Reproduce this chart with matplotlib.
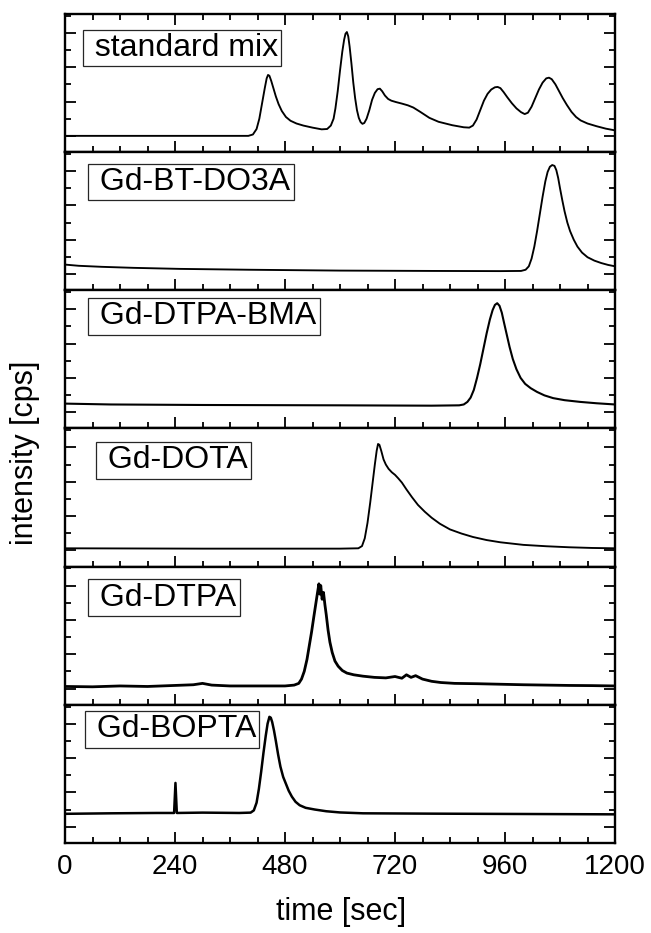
import numpy as np
import matplotlib.pyplot as plt
from matplotlib.ticker import MultipleLocator

plt.rcParams['font.family'] = ['Liberation Sans', 'DejaVu Sans']

# --------------------
# Data
# intensity in tick units (one unit = one y tick, baseline tick = 0)
# --------------------
panel_labels = [" standard mix", " Gd-BT-DO3A", " Gd-DTPA-BMA",
                " Gd-DOTA", " Gd-DTPA", " Gd-BOPTA"]

mix_t = [0, 400, 410, 418, 424, 430, 436, 440, 443, 446, 450, 455, 460, 466,
         473, 482, 492, 505, 520, 540, 560, 572, 580, 586, 590, 595, 600, 605,
         609, 612, 615, 618, 621, 625, 629, 633, 637, 641, 645, 649, 653, 658,
         664, 670, 676, 682, 687, 692, 698, 705, 712, 722, 735, 748, 760, 775,
         795, 815, 845, 870, 882, 890, 898, 906, 914, 922, 930, 938, 944, 950,
         957, 965, 975, 985, 995, 1003, 1010, 1018, 1026, 1034, 1042, 1050, 1056,
         1062, 1070, 1078, 1086, 1095, 1105, 1115, 1125, 1140, 1160, 1180, 1200]
mix_y = [0.0, 0.0, 0.08, 0.4, 1.0, 1.9, 2.8, 3.35, 3.55, 3.5, 3.2, 2.75, 2.3, 1.85,
         1.45, 1.1, 0.88, 0.72, 0.6, 0.48, 0.38, 0.4, 0.6, 1.0, 1.6, 2.6, 3.8, 4.9,
         5.6, 5.95, 6.05, 5.8, 5.2, 4.2, 3.1, 2.2, 1.5, 1.05, 0.8, 0.7, 0.75, 1.0,
         1.5, 2.1, 2.5, 2.72, 2.75, 2.6, 2.35, 2.15, 2.05, 1.97, 1.88, 1.78, 1.65, 1.4,
         1.05, 0.82, 0.62, 0.5, 0.48, 0.6, 0.95, 1.5, 2.05, 2.45, 2.7, 2.83, 2.85, 2.78,
         2.55, 2.25, 1.9, 1.6, 1.38, 1.27, 1.35, 1.7, 2.2, 2.7, 3.1, 3.35, 3.39,
         3.3, 3.0, 2.6, 2.2, 1.8, 1.4, 1.1, 0.9, 0.72, 0.56, 0.42, 0.32]

bt_t = [0, 30, 80, 150, 250, 400, 600, 800, 950, 995, 1005, 1012, 1018, 1024,
        1030, 1036, 1042, 1048, 1053, 1058, 1063, 1068, 1072, 1076, 1080, 1085,
        1090, 1096, 1102, 1110, 1118, 1128, 1140, 1155, 1170, 1185, 1200]
bt_y = [0.55, 0.48, 0.42, 0.36, 0.3, 0.25, 0.2, 0.18, 0.17, 0.18, 0.25, 0.45, 0.9,
        1.6, 2.5, 3.5, 4.5, 5.4, 5.95, 6.25, 6.35, 6.3, 6.05, 5.6, 5.0, 4.3,
        3.65, 3.0, 2.5, 2.0, 1.6, 1.25, 0.98, 0.78, 0.64, 0.53, 0.45]

bma_t = [0, 100, 300, 600, 800, 860, 870, 878, 885, 892, 899, 906, 913, 920,
         927, 933, 938, 943, 948, 953, 958, 964, 970, 977, 985, 994, 1004, 1016,
         1030, 1046, 1065, 1090, 1124, 1160, 1200]
bma_y = [0.5, 0.45, 0.42, 0.4, 0.38, 0.4, 0.45, 0.6, 0.85, 1.3, 2.0, 2.8, 3.7, 4.6,
         5.4, 5.95, 6.25, 6.35, 6.2, 5.8, 5.2, 4.5, 3.8, 3.1, 2.5, 2.0, 1.65, 1.4,
         1.18, 0.98, 0.82, 0.7, 0.6, 0.52, 0.45]

dota_t = [0, 300, 600, 640, 648, 654, 660, 666, 671, 676, 680, 683, 686, 690,
          695, 700, 706, 713, 720, 727, 735, 745, 757, 770, 785, 800, 818, 840,
          865, 890, 920, 950, 1000, 1050, 1100, 1150, 1200]
dota_y = [0.12, 0.1, 0.1, 0.12, 0.25, 0.7, 1.6, 2.8, 3.9, 5.0, 5.8, 6.2, 6.15, 5.8,
          5.3, 5.0, 4.75, 4.55, 4.4, 4.2, 3.95, 3.55, 3.1, 2.65, 2.25, 1.9, 1.55,
          1.22, 0.98, 0.78, 0.6, 0.47, 0.32, 0.24, 0.18, 0.14, 0.12]

dtpa_t = [0, 60, 120, 180, 240, 280, 300, 320, 360, 420, 480, 500, 510, 516,
          522, 528, 533, 538, 543, 547, 551, 554, 556, 558, 561, 564, 567, 570,
          574, 578, 583, 589, 596, 605, 615, 630, 650, 675, 700, 720, 735, 745,
          755, 765, 780, 800, 820, 850, 900, 950, 1000, 1050, 1100, 1150, 1200]
dtpa_y = [0.12, 0.1, 0.15, 0.12, 0.18, 0.22, 0.3, 0.2, 0.15, 0.15, 0.15, 0.2, 0.3,
          0.55, 1.0, 1.7, 2.5, 3.3, 4.2, 4.9, 5.6, 6.1, 5.5, 6.0, 5.2, 5.6, 4.9,
          4.3, 3.4, 2.7, 2.1, 1.6, 1.3, 1.05, 0.9, 0.8, 0.72, 0.65, 0.62, 0.7, 0.6,
          0.8, 0.65, 0.75, 0.55, 0.42, 0.35, 0.3, 0.28, 0.25, 0.22, 0.2, 0.18,
          0.17, 0.15]

bopta_t = [0, 100, 200, 238, 241, 244, 300, 380, 405, 412, 418, 423, 428, 433,
           438, 442, 446, 449, 452, 456, 460, 465, 470, 476, 482, 488, 495, 503,
           512, 525, 545, 570, 600, 650, 800, 1000, 1200]
bopta_y = [0.75, 0.78, 0.8, 0.8, 2.55, 0.8, 0.82, 0.8, 0.82, 0.95, 1.4, 2.2, 3.2,
           4.3, 5.3, 6.0, 6.4, 6.35, 6.1, 5.6, 5.0, 4.2, 3.5, 2.9, 2.5, 2.1, 1.75,
           1.45, 1.25, 1.1, 1.0, 0.9, 0.83, 0.78, 0.76, 0.74, 0.72]

traces = [(mix_t, mix_y), (bt_t, bt_y), (bma_t, bma_y),
          (dota_t, dota_y), (dtpa_t, dtpa_y), (bopta_t, bopta_y)]
line_w = [1.35, 1.35, 1.5, 1.35, 2.0, 1.8]

# label box: left edge and vertical centre, pixels from the axes' top-left
box_left_px = [17.5, 23, 23, 31, 23, 19.6]
box_mid_px = [34, 30, 26, 32, 31, 24.5]

# --------------------
# Plot
# --------------------
fig, axes = plt.subplots(6, 1, sharex=True, figsize=(6.51, 9.33), dpi=100,
                         gridspec_kw=dict(hspace=0))
fig.subplots_adjust(left=65 / 651, right=615 / 651, top=1 - 14 / 933,
                    bottom=1 - 843 / 933)

ax_w_px = 550.0
ax_h_px = (843 - 14) / 6.0
fs_box = 23
pad = 0.1

for i, ax in enumerate(axes):
    t, y = traces[i]
    ax.plot(t, y, color='black', linewidth=line_w[i], solid_joinstyle='round')

    ax.set_xlim(0, 1200)
    ax.set_ylim(-0.95, 7.1)
    ax.yaxis.set_major_locator(MultipleLocator(2))
    ax.yaxis.set_minor_locator(MultipleLocator(1))
    ax.set_yticklabels([])
    ax.xaxis.set_major_locator(MultipleLocator(240))
    ax.xaxis.set_minor_locator(MultipleLocator(60 if i == 5 else 120))

    for s in ax.spines.values():
        s.set_linewidth(1.7)
    ax.tick_params(which='both', direction='in', left=True, right=True,
                   top=(i == 0), bottom=True, width=1.3)
    ax.tick_params(which='major', length=8)
    ax.tick_params(which='minor', length=4)
    ax.tick_params(axis='x', which='major', labelsize=20, pad=8)
    ax.tick_params(axis='y', which='both', labelleft=False)

    pad_px = pad * fs_box * 100 / 72
    ax.text((box_left_px[i] + pad_px) / ax_w_px, 1 - box_mid_px[i] / ax_h_px,
            panel_labels[i], transform=ax.transAxes, fontsize=fs_box,
            ha='left', va='center',
            bbox=dict(boxstyle='square,pad=%.2f' % pad, fc='white',
                      ec='0.15', lw=0.9))

fig.text(341 / 651, 1 - 912 / 933, "time [sec]", fontsize=22,
         ha='center', va='center')
fig.text(25 / 651, 1 - 453 / 933, "intensity [cps]", fontsize=22,
         ha='center', va='center', rotation=90)

plt.savefig('out.png', dpi=100)
